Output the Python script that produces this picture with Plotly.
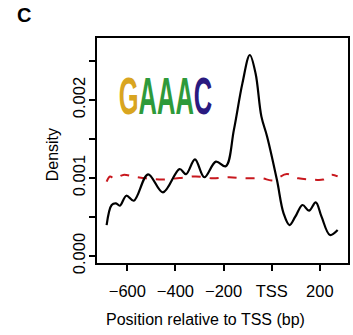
import plotly.graph_objects as go

# Observed (GAAAC motif) density
pos_obs = [-686, -665, -647, -631, -604, -573, -514, -452, -383, -356, -319, -280, -232, -191,
           -157, -122, -91, -67, -43, -19, 22, 49, 74, 98, 128, 155, 183, 207, 242, 274]
dens_obs = [0.000397, 0.000654, 0.000675, 0.000645, 0.000773, 0.000709, 0.001047, 0.000816,
            0.001115, 0.00105, 0.00124, 0.00101, 0.00121, 0.00115, 0.00162, 0.00221, 0.002577,
            0.00234, 0.00179, 0.00153, 0.00097, 0.00055, 0.000397, 0.000504, 0.000654, 0.000581,
            0.000688, 0.000504, 0.000269, 0.000333]

# Background (random) density
pos_bg = [-686, -672, -652, -617, -576, -521, -452, -383, -315, -246, -177, -109, -40, 2,
          63, 111, 166, 214, 248, 274]
dens_bg = [0.000953, 0.00102, 0.00099, 0.00104, 0.00102, 0.000996, 0.00098, 0.001, 0.00102,
           0.000996, 0.00101, 0.000996, 0.000996, 0.00097, 0.00105, 0.000996, 0.00098, 0.00098,
           0.00104, 0.00102]

x_tickvals = [-600, -400, -200, 0, 200]
x_ticktext = ["\u2212600", "\u2212400", "\u2212200", "TSS", "200"]
y_tickvals = [0, 0.0005, 0.001, 0.0015, 0.002, 0.0025]
y_ticktext = ["0.000", "", "0.001", "", "0.002", ""]

motif = "GAAAC"
motif_colors = ["#d9a520", "#2e9a3a", "#2e9a3a", "#2e9a3a", "#2a1a80"]

fig = go.Figure()
fig.add_trace(go.Scatter(x=pos_bg, y=dens_bg, mode="lines",
                         line=dict(color="#c8181e", width=2, dash="dash", shape="spline", smoothing=1.0)))
fig.add_trace(go.Scatter(x=pos_obs, y=dens_obs, mode="lines",
                         line=dict(color="black", width=2.2, shape="spline", smoothing=1.0)))

font_fam = "Liberation Sans, Arial, sans-serif"
motif_html = "".join(f"<span style='color:{c}'>{ch}</span>" for ch, c in zip(motif, motif_colors))
fig.add_annotation(x=-441, y=0.00205, xref="x", yref="y", text=f"<b>{motif_html}</b>",
                   showarrow=False, font=dict(family=font_fam, size=51))
fig.add_annotation(x=-0.29, y=1.1, xref="paper", yref="paper", text="<b>C</b>", showarrow=False,
                   xanchor="center", yanchor="middle",
                   font=dict(family=font_fam, size=20, color="black"))
fig.add_annotation(x=0.431, y=-0.249, xref="paper", yref="paper", text="Position relative to TSS (bp)",
                   showarrow=False, xanchor="center", yanchor="middle",
                   font=dict(family=font_fam, size=16, color="black"))
fig.add_annotation(x=-0.178, y=0.48, xref="paper", yref="paper", text="Density", textangle=-90,
                   showarrow=False, xanchor="center", yanchor="middle",
                   font=dict(family=font_fam, size=16, color="black"))

fig.update_layout(
    width=353, height=335, margin=dict(l=97, r=3, t=38, b=72),
    paper_bgcolor="white", plot_bgcolor="white", showlegend=False,
    font=dict(family=font_fam, size=16.5, color="black"),
    xaxis=dict(range=[-726, 317], tickvals=x_tickvals, ticktext=x_ticktext, ticks="outside",
               ticklen=6, tickwidth=1.5, tickcolor="black", showgrid=False, zeroline=False,
               showline=True, linecolor="black", linewidth=1.5, mirror=True, ticklabelstandoff=6),
    yaxis=dict(range=[-0.0000897, 0.002795], tickvals=y_tickvals, ticktext=y_ticktext, ticks="outside",
               ticklen=6, tickwidth=1.5, tickcolor="black", showgrid=False, zeroline=False,
               showline=True, linecolor="black", linewidth=1.5, mirror=True, tickangle=-90,
               ticklabelstandoff=-2),
)

post = """
document.body.style.margin = '0';
document.body.style.padding = '0';
var gd = document.getElementsByClassName('plotly-graph-div')[0];
function squeeze(){
  var t = gd.querySelector('.annotation[data-index="0"] text');
  if(!t) return;
  var b = t.getBBox();
  var cx = b.x + b.width/2;
  t.setAttribute('transform', 'translate(' + cx + ',0) scale(0.5,1) translate(' + (-cx) + ',0)');
}
squeeze();
"""
fig.write_html("out.html", post_script=post, config={"displayModeBar": False})
